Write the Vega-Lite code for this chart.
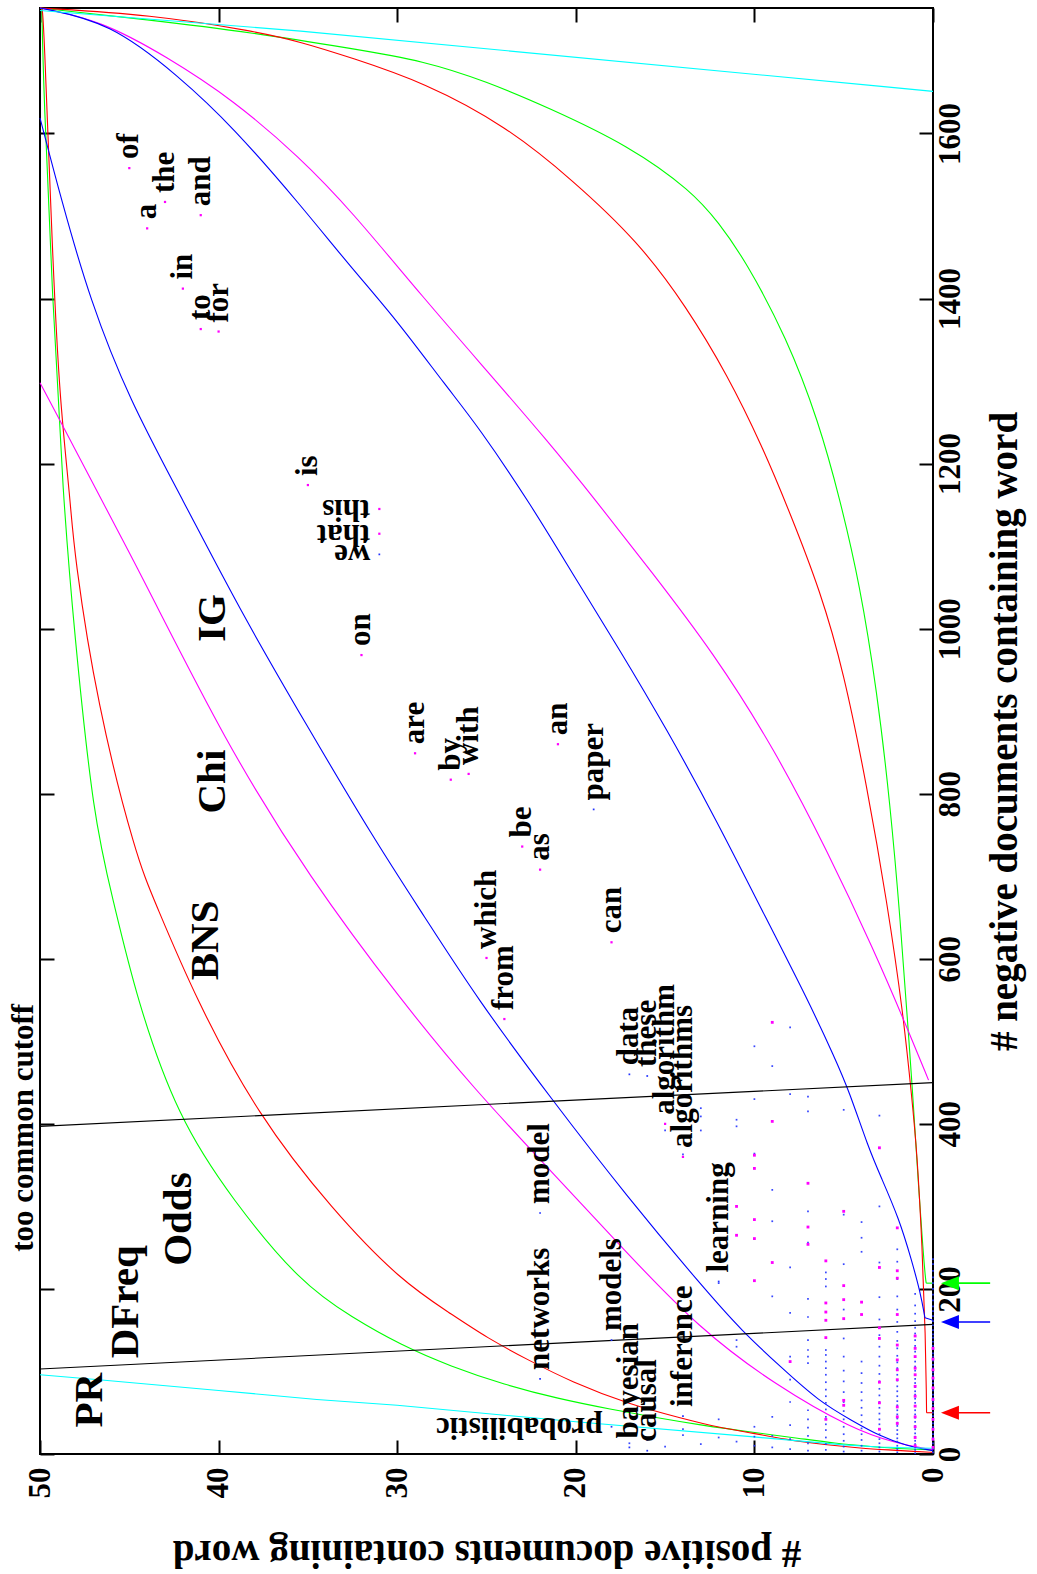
{
"$schema": "https://vega.github.io/schema/vega-lite/v6.json",
"width": 893, "height": 1446,
"autosize": {"type": "none"},
"padding": {"left": 40, "top": 8, "right": 104, "bottom": 120},
"background": "white",
"config": {"view": {"stroke": "black", "strokeWidth": 2}, "font": "Liberation Serif"},
"datasets": {
"curves": [
{"m":"Odds","b":"L","p":49.9,"n":1752},{"m":"Odds","b":"L","p":49.8,"n":1653},{"m":"Odds","b":"L","p":49.3,"n":1400},{"m":"Odds","b":"L","p":48.7,"n":1156},{"m":"Odds","b":"L","p":48.1,"n":1000},{"m":"Odds","b":"L","p":47.0,"n":768},{"m":"Odds","b":"L","p":45.9,"n":671},{"m":"Odds","b":"L","p":44.6,"n":552},{"m":"Odds","b":"L","p":42.3,"n":408},{"m":"Odds","b":"L","p":39.2,"n":307},{"m":"Odds","b":"L","p":35.4,"n":207},{"m":"Odds","b":"L","p":32.5,"n":165},{"m":"Odds","b":"L","p":29.8,"n":132},{"m":"Odds","b":"L","p":27,"n":106},{"m":"Odds","b":"L","p":24,"n":84},{"m":"Odds","b":"L","p":21,"n":67},{"m":"Odds","b":"L","p":18,"n":54},{"m":"Odds","b":"L","p":15.5,"n":44},{"m":"Odds","b":"L","p":13,"n":35},{"m":"Odds","b":"L","p":10,"n":26},{"m":"Odds","b":"L","p":7.5,"n":19},{"m":"Odds","b":"L","p":5.5,"n":13},{"m":"Odds","b":"L","p":3.5,"n":9},{"m":"Odds","b":"L","p":1.5,"n":6},{"m":"Odds","b":"L","p":0,"n":5},
{"m":"Odds","b":"T","p":50,"n":1752},{"m":"Odds","b":"T","p":44,"n":1738},{"m":"Odds","b":"T","p":38,"n":1722},{"m":"Odds","b":"T","p":32.6,"n":1703},{"m":"Odds","b":"T","p":28.5,"n":1688},{"m":"Odds","b":"T","p":25,"n":1663},{"m":"Odds","b":"T","p":21.6,"n":1632},{"m":"Odds","b":"T","p":17,"n":1585},{"m":"Odds","b":"T","p":13.5,"n":1530},{"m":"Odds","b":"T","p":12,"n":1492},{"m":"Odds","b":"T","p":10.5,"n":1446},{"m":"Odds","b":"T","p":8.2,"n":1353},{"m":"Odds","b":"T","p":6.4,"n":1251},{"m":"Odds","b":"T","p":5.2,"n":1156},{"m":"Odds","b":"T","p":4.1,"n":1054},{"m":"Odds","b":"T","p":3.14,"n":925},{"m":"Odds","b":"T","p":2.39,"n":786},{"m":"Odds","b":"T","p":1.83,"n":647},{"m":"Odds","b":"T","p":1.37,"n":508},{"m":"Odds","b":"T","p":1.1,"n":425},{"m":"Odds","b":"T","p":0.8,"n":320},{"m":"Odds","b":"T","p":0.55,"n":245},{"m":"Odds","b":"T","p":0.42,"n":212},{"m":"Odds","b":"T","p":0.38,"n":207},
{"m":"BNS","b":"L","p":49.9,"n":1752},{"m":"BNS","b":"L","p":49.8,"n":1744},{"m":"BNS","b":"L","p":49.3,"n":1450},{"m":"BNS","b":"L","p":48.9,"n":1277},{"m":"BNS","b":"L","p":48.3,"n":1156},{"m":"BNS","b":"L","p":48.1,"n":1092},{"m":"BNS","b":"L","p":46.8,"n":907},{"m":"BNS","b":"L","p":44.6,"n":722},{"m":"BNS","b":"L","p":43.6,"n":671},{"m":"BNS","b":"L","p":41.3,"n":552},{"m":"BNS","b":"L","p":37.8,"n":410},{"m":"BNS","b":"L","p":33.6,"n":295},{"m":"BNS","b":"L","p":29.8,"n":210},{"m":"BNS","b":"L","p":27,"n":170},{"m":"BNS","b":"L","p":25,"n":141},{"m":"BNS","b":"L","p":22.5,"n":112},{"m":"BNS","b":"L","p":20.3,"n":88},{"m":"BNS","b":"L","p":17,"n":60},{"m":"BNS","b":"L","p":14,"n":43},{"m":"BNS","b":"L","p":12,"n":32},{"m":"BNS","b":"L","p":10,"n":25},{"m":"BNS","b":"L","p":8.4,"n":18},{"m":"BNS","b":"L","p":6,"n":11},{"m":"BNS","b":"L","p":4,"n":7},{"m":"BNS","b":"L","p":2.5,"n":5},{"m":"BNS","b":"L","p":1,"n":3},{"m":"BNS","b":"L","p":0,"n":2},
{"m":"BNS","b":"T","p":50,"n":1752},{"m":"BNS","b":"T","p":43.8,"n":1744},{"m":"BNS","b":"T","p":38,"n":1724},{"m":"BNS","b":"T","p":35.4,"n":1711},{"m":"BNS","b":"T","p":32.6,"n":1692},{"m":"BNS","b":"T","p":28.5,"n":1662},{"m":"BNS","b":"T","p":23.9,"n":1609},{"m":"BNS","b":"T","p":20.2,"n":1544},{"m":"BNS","b":"T","p":16.5,"n":1469},{"m":"BNS","b":"T","p":13.8,"n":1390},{"m":"BNS","b":"T","p":11.5,"n":1307},{"m":"BNS","b":"T","p":9.6,"n":1223},{"m":"BNS","b":"T","p":8,"n":1140},{"m":"BNS","b":"T","p":6.3,"n":1045},{"m":"BNS","b":"T","p":5,"n":948},{"m":"BNS","b":"T","p":3.7,"n":809},{"m":"BNS","b":"T","p":2.58,"n":670},{"m":"BNS","b":"T","p":1.65,"n":531},{"m":"BNS","b":"T","p":1.18,"n":430},{"m":"BNS","b":"T","p":0.9,"n":368},{"m":"BNS","b":"T","p":0.6,"n":250},{"m":"BNS","b":"T","p":0.42,"n":140},{"m":"BNS","b":"T","p":0.37,"n":70},{"m":"BNS","b":"T","p":0.36,"n":50},
{"m":"Chi","b":"L","p":50,"n":1298},{"m":"Chi","b":"L","p":44.4,"n":1069},{"m":"Chi","b":"L","p":39.6,"n":861},{"m":"Chi","b":"L","p":34.9,"n":698},{"m":"Chi","b":"L","p":29.8,"n":550},{"m":"Chi","b":"L","p":25.65,"n":441},{"m":"Chi","b":"L","p":21.4,"n":343},{"m":"Chi","b":"L","p":17.2,"n":245},{"m":"Chi","b":"L","p":13.1,"n":152},{"m":"Chi","b":"L","p":8.8,"n":83},{"m":"Chi","b":"L","p":4.5,"n":30},{"m":"Chi","b":"L","p":2.1,"n":13},{"m":"Chi","b":"L","p":0,"n":5},
{"m":"Chi","b":"T","p":50,"n":1752},{"m":"Chi","b":"T","p":46.6,"n":1737},{"m":"Chi","b":"T","p":42.9,"n":1693},{"m":"Chi","b":"T","p":39.2,"n":1641},{"m":"Chi","b":"T","p":35.4,"n":1570},{"m":"Chi","b":"T","p":32.6,"n":1507},{"m":"Chi","b":"T","p":28.5,"n":1400},{"m":"Chi","b":"T","p":25,"n":1313},{"m":"Chi","b":"T","p":21.6,"n":1228},{"m":"Chi","b":"T","p":18.9,"n":1156},{"m":"Chi","b":"T","p":15.8,"n":1070},{"m":"Chi","b":"T","p":12.3,"n":971},{"m":"Chi","b":"T","p":8.9,"n":855},{"m":"Chi","b":"T","p":5.9,"n":730},{"m":"Chi","b":"T","p":3.3,"n":610},{"m":"Chi","b":"T","p":1.46,"n":517},{"m":"Chi","b":"T","p":0.25,"n":453},
{"m":"IG","b":"L","p":50,"n":1619},{"m":"IG","b":"L","p":48.8,"n":1519},{"m":"IG","b":"L","p":47.2,"n":1398},{"m":"IG","b":"L","p":45,"n":1277},{"m":"IG","b":"L","p":42,"n":1156},{"m":"IG","b":"L","p":38.8,"n":1022},{"m":"IG","b":"L","p":35.1,"n":884},{"m":"IG","b":"L","p":31.3,"n":745},{"m":"IG","b":"L","p":28.5,"n":652},{"m":"IG","b":"L","p":25.5,"n":551},{"m":"IG","b":"L","p":21.4,"n":431},{"m":"IG","b":"L","p":17.1,"n":311},{"m":"IG","b":"L","p":12.8,"n":200},{"m":"IG","b":"L","p":10.7,"n":149},{"m":"IG","b":"L","p":8.5,"n":105},{"m":"IG","b":"L","p":6.4,"n":64},{"m":"IG","b":"L","p":4.5,"n":40},{"m":"IG","b":"L","p":3,"n":22},{"m":"IG","b":"L","p":1.5,"n":10},{"m":"IG","b":"L","p":0,"n":4},
{"m":"IG","b":"T","p":50,"n":1752},{"m":"IG","b":"T","p":46.1,"n":1735},{"m":"IG","b":"T","p":42.2,"n":1669},{"m":"IG","b":"T","p":39.2,"n":1608},{"m":"IG","b":"T","p":35.4,"n":1513},{"m":"IG","b":"T","p":32.6,"n":1438},{"m":"IG","b":"T","p":30.1,"n":1376},{"m":"IG","b":"T","p":27.2,"n":1292},{"m":"IG","b":"T","p":25.5,"n":1246},{"m":"IG","b":"T","p":22.5,"n":1150},{"m":"IG","b":"T","p":20,"n":1060},{"m":"IG","b":"T","p":17.7,"n":980},{"m":"IG","b":"T","p":14.9,"n":878},{"m":"IG","b":"T","p":12.1,"n":767},{"m":"IG","b":"T","p":9.3,"n":647},{"m":"IG","b":"T","p":7,"n":550},{"m":"IG","b":"T","p":5.5,"n":480},{"m":"IG","b":"T","p":4.7,"n":440},{"m":"IG","b":"T","p":3.6,"n":370},{"m":"IG","b":"T","p":2.9,"n":335},{"m":"IG","b":"T","p":1.9,"n":285},{"m":"IG","b":"T","p":1.2,"n":235},{"m":"IG","b":"T","p":0.7,"n":195},{"m":"IG","b":"T","p":0.45,"n":165}
],
"straight": [
{"m":"PR","b":"L","p":50,"n":96},{"m":"PR","b":"L","p":46.7,"n":90},{"m":"PR","b":"L","p":40,"n":77},{"m":"PR","b":"L","p":34.5,"n":66},{"m":"PR","b":"L","p":30,"n":59},{"m":"PR","b":"L","p":20,"n":39},{"m":"PR","b":"L","p":10.2,"n":21},{"m":"PR","b":"L","p":5,"n":11},{"m":"PR","b":"L","p":3,"n":8.5},{"m":"PR","b":"L","p":1.5,"n":7.5},{"m":"PR","b":"L","p":0,"n":7},
{"m":"PR","b":"T","p":50,"n":1749},{"m":"PR","b":"T","p":35.4,"n":1724},{"m":"PR","b":"T","p":2.9,"n":1657},{"m":"PR","b":"T","p":0,"n":1651},
{"m":"Odds","b":"S","p":0.38,"n":207},{"m":"Odds","b":"S","p":0,"n":207},
{"m":"BNS","b":"S","p":0.36,"n":50},{"m":"BNS","b":"S","p":0,"n":50},
{"m":"IG","b":"S","p":0.45,"n":165},{"m":"IG","b":"S","p":0,"n":162},
{"m":"DFreq","b":"L","p":50,"n":103},{"m":"DFreq","b":"L","p":0,"n":157},
{"m":"DFreq","b":"T","p":50,"n":397},{"m":"DFreq","b":"T","p":0,"n":450}
],
"arrows": [
{"m":"BNS","t":-3.2,"h":-0.95,"n":50},
{"m":"IG","t":-3.2,"h":-0.95,"n":160},
{"m":"Odds","t":-3.2,"h":-0.95,"n":207}
],
"blue": [
{"p":0,"n":2},{"p":0,"n":6},{"p":0,"n":9},{"p":0,"n":13},{"p":0,"n":17},{"p":0,"n":20},{"p":0,"n":24},{"p":0,"n":29},{"p":0,"n":33},{"p":0,"n":37},{"p":0,"n":41},{"p":0,"n":46},{"p":0,"n":50},{"p":0,"n":55},{"p":0,"n":59},{"p":0,"n":63},{"p":0,"n":68},{"p":0,"n":72},{"p":0,"n":77},{"p":0,"n":81},{"p":0,"n":86},{"p":0,"n":90},{"p":0,"n":95},{"p":0,"n":99},{"p":0,"n":104},{"p":0,"n":108},{"p":0,"n":113},{"p":0,"n":118},{"p":0,"n":122},{"p":0,"n":127},{"p":0,"n":131},{"p":0,"n":136},{"p":0,"n":141},{"p":0,"n":145},{"p":0,"n":150},{"p":0,"n":156},{"p":0,"n":161},{"p":0,"n":167},{"p":0,"n":173},{"p":0,"n":179},{"p":0,"n":186},{"p":0,"n":193},{"p":0,"n":200},{"p":0,"n":207},{"p":0,"n":214},{"p":0,"n":222},{"p":0,"n":230},{"p":0,"n":236},
{"p":1,"n":1},{"p":1,"n":5},{"p":1,"n":8},{"p":1,"n":12},{"p":1,"n":16},{"p":1,"n":21},{"p":1,"n":25},{"p":1,"n":30},{"p":1,"n":34},{"p":1,"n":39},{"p":1,"n":44},{"p":1,"n":48},{"p":1,"n":53},{"p":1,"n":58},{"p":1,"n":62},{"p":1,"n":67},{"p":1,"n":72},{"p":1,"n":76},{"p":1,"n":81},{"p":1,"n":86},{"p":1,"n":91},{"p":1,"n":96},{"p":1,"n":101},{"p":1,"n":106},{"p":1,"n":112},{"p":1,"n":118},{"p":1,"n":124},{"p":1,"n":131},{"p":1,"n":138},{"p":1,"n":146},{"p":1,"n":153},{"p":1,"n":161},{"p":1,"n":170},{"p":1,"n":180},{"p":1,"n":194},
{"p":2,"n":2},{"p":2,"n":6},{"p":2,"n":10},{"p":2,"n":15},{"p":2,"n":19},{"p":2,"n":24},{"p":2,"n":29},{"p":2,"n":34},{"p":2,"n":38},{"p":2,"n":43},{"p":2,"n":48},{"p":2,"n":53},{"p":2,"n":59},{"p":2,"n":64},{"p":2,"n":70},{"p":2,"n":76},{"p":2,"n":82},{"p":2,"n":89},{"p":2,"n":96},{"p":2,"n":104},{"p":2,"n":111},{"p":2,"n":119},{"p":2,"n":128},{"p":2,"n":137},{"p":2,"n":148},{"p":2,"n":160},{"p":2,"n":175},{"p":2,"n":191},{"p":2,"n":212},{"p":2,"n":233},{"p":2,"n":248},
{"p":3,"n":3},{"p":3,"n":8},{"p":3,"n":13},{"p":3,"n":18},{"p":3,"n":24},{"p":3,"n":30},{"p":3,"n":36},{"p":3,"n":42},{"p":3,"n":49},{"p":3,"n":56},{"p":3,"n":63},{"p":3,"n":71},{"p":3,"n":79},{"p":3,"n":88},{"p":3,"n":97},{"p":3,"n":107},{"p":3,"n":118},{"p":3,"n":130},{"p":3,"n":144},{"p":3,"n":163},{"p":3,"n":190},{"p":3,"n":232},{"p":3,"n":300},{"p":3,"n":410},
{"p":4,"n":4},{"p":4,"n":10},{"p":4,"n":17},{"p":4,"n":24},{"p":4,"n":31},{"p":4,"n":39},{"p":4,"n":47},{"p":4,"n":56},{"p":4,"n":65},{"p":4,"n":75},{"p":4,"n":86},{"p":4,"n":98},{"p":4,"n":112},{"p":4,"n":245},{"p":4,"n":262},{"p":4,"n":281},
{"p":5,"n":3},{"p":5,"n":9},{"p":5,"n":16},{"p":5,"n":24},{"p":5,"n":33},{"p":5,"n":42},{"p":5,"n":52},{"p":5,"n":63},{"p":5,"n":75},{"p":5,"n":88},{"p":5,"n":101},{"p":5,"n":118},{"p":5,"n":140},{"p":5,"n":175},{"p":5,"n":230},{"p":5,"n":290},{"p":5,"n":417},
{"p":6,"n":5},{"p":6,"n":12},{"p":6,"n":20},{"p":6,"n":29},{"p":6,"n":36},{"p":6,"n":45},{"p":6,"n":54},{"p":6,"n":62},{"p":6,"n":70},{"p":6,"n":78},{"p":6,"n":87},{"p":6,"n":96},{"p":6,"n":104},{"p":6,"n":112},{"p":6,"n":120},{"p":6,"n":126},{"p":6,"n":203},{"p":6,"n":212},{"p":6,"n":220},
{"p":7,"n":4},{"p":7,"n":13},{"p":7,"n":22},{"p":7,"n":32},{"p":7,"n":42},{"p":7,"n":53},{"p":7,"n":110},{"p":7,"n":118},{"p":7,"n":126},{"p":7,"n":138},{"p":7,"n":166},{"p":7,"n":188},{"p":7,"n":256},{"p":7,"n":294},{"p":7,"n":415},{"p":7,"n":433},
{"p":8,"n":6},{"p":8,"n":18},{"p":8,"n":35},{"p":8,"n":63},{"p":8,"n":90},{"p":8,"n":118},{"p":8,"n":171},{"p":8,"n":226},{"p":8,"n":436},{"p":8,"n":517},
{"p":9,"n":8},{"p":9,"n":22},{"p":9,"n":45},{"p":9,"n":191},{"p":9,"n":282},{"p":9,"n":320},{"p":9,"n":470},
{"p":10,"n":10},{"p":10,"n":21},{"p":10,"n":33},{"p":10,"n":364},{"p":10,"n":430},{"p":10,"n":494},
{"p":11,"n":15},{"p":11,"n":130},{"p":11,"n":138},{"p":11,"n":397},{"p":11,"n":405},
{"p":12,"n":20},{"p":12,"n":42},{"p":12,"n":207},
{"p":13,"n":12},{"p":13,"n":392},{"p":13,"n":409},{"p":13,"n":419},
{"p":14,"n":23},{"p":14,"n":30},{"p":14,"n":363},
{"p":15,"n":9},{"p":15,"n":392},{"p":16,"n":17},{"p":17,"n":13}
],
"mag": [
{"p":11,"n":300},{"p":11,"n":265},{"p":10,"n":362},{"p":10,"n":346},{"p":10,"n":284},{"p":10,"n":261},{"p":10,"n":210},{"p":9,"n":523},{"p":9,"n":403},{"p":9,"n":232},{"p":8,"n":112},{"p":7,"n":328},{"p":7,"n":275},{"p":7,"n":254},{"p":6,"n":234},{"p":6,"n":183},{"p":6,"n":172},{"p":6,"n":162},{"p":6,"n":141},{"p":6,"n":42},{"p":5,"n":294},{"p":5,"n":204},{"p":5,"n":187},{"p":5,"n":164},{"p":5,"n":65},{"p":5,"n":59},{"p":4,"n":184},{"p":4,"n":169},{"p":3,"n":371},{"p":3,"n":226},{"p":3,"n":153},{"p":3,"n":140},{"p":3,"n":87},{"p":3,"n":62},{"p":3,"n":30},{"p":2,"n":274},{"p":2,"n":222},{"p":2,"n":213},{"p":2,"n":169},{"p":2,"n":132},{"p":2,"n":114},{"p":2,"n":102},{"p":2,"n":90},{"p":2,"n":57},{"p":2,"n":45},{"p":2,"n":37},{"p":1,"n":143},{"p":1,"n":128},{"p":1,"n":118},{"p":1,"n":104},{"p":1,"n":96},{"p":1,"n":82},{"p":1,"n":70},{"p":1,"n":58},{"p":1,"n":45},{"p":1,"n":33},{"p":1,"n":20},{"p":1,"n":10},{"p":0,"n":128},{"p":0,"n":115},{"p":0,"n":102},{"p":0,"n":92},{"p":0,"n":80},{"p":0,"n":66},{"p":0,"n":55},{"p":0,"n":42},{"p":0,"n":30},{"p":0,"n":18},{"p":0,"n":8}
],
"words": [
{"w":"of","p":45,"n":1558,"o":"up","g":"A"},{"w":"a","p":44,"n":1485,"o":"up","g":"A"},{"w":"the","p":43,"n":1517,"o":"up","g":"A"},{"w":"and","p":41,"n":1501,"o":"up","g":"A"},{"w":"in","p":42,"n":1412,"o":"up","g":"A"},{"w":"to","p":41,"n":1363,"o":"up","g":"A"},{"w":"for","p":40,"n":1360,"o":"up","g":"A"},{"w":"is","p":35,"n":1174,"o":"up","g":"A"},
{"w":"this","p":31,"n":1145,"o":"flip","g":"A"},{"w":"that","p":31,"n":1115,"o":"flip","g":"A"},{"w":"we","p":31,"n":1090,"o":"flip","g":"B"},
{"w":"on","p":32,"n":968,"o":"up","g":"A"},{"w":"are","p":29,"n":849,"o":"up","g":"A"},{"w":"by","p":27,"n":817,"o":"up","g":"A"},{"w":"with","p":26,"n":824,"o":"up","g":"A"},{"w":"an","p":21,"n":860,"o":"up","g":"A"},{"w":"paper","p":19,"n":781,"o":"up","g":"B"},{"w":"be","p":23,"n":736,"o":"up","g":"A"},{"w":"as","p":22,"n":708,"o":"up","g":"A"},{"w":"which","p":25,"n":601,"o":"up","g":"A"},{"w":"from","p":24,"n":527,"o":"up","g":"A"},{"w":"can","p":18,"n":620,"o":"up","g":"A"},
{"w":"data","p":17,"n":460,"o":"up","g":"B"},{"w":"these","p":16,"n":458,"o":"up","g":"B"},{"w":"algorithm","p":15,"n":400,"o":"up","g":"A"},{"w":"algorithms","p":14,"n":360,"o":"up","g":"A"},
{"w":"model","p":22,"n":292,"o":"up","g":"B"},{"w":"networks","p":22,"n":91,"o":"up","g":"B"},{"w":"models","p":18,"n":138,"o":"up","g":"B"},{"w":"inference","p":14,"n":46,"o":"up","g":"B"},{"w":"learning","p":12,"n":209,"o":"up","g":"B"},{"w":"bayesian","p":17,"n":8,"o":"up","g":"B"},{"w":"causal","p":16,"n":4,"o":"up","g":"B"},
{"w":"probabilistic","p":18,"n":33,"o":"flip","g":"B"}
],
"labels": [
{"t":"PR","p":47.2,"n":32},{"t":"DFreq","p":45.2,"n":116},{"t":"Odds","p":42.2,"n":228},{"t":"BNS","p":40.7,"n":574},{"t":"Chi","p":40.3,"n":776},{"t":"IG","p":40.3,"n":984}
],
"cut": [{"t":"too common cutoff","p":50.9,"n":245}]
},
"layer": [
{"data":{"name":"curves"},
 "mark":{"type":"line","strokeWidth":1.1,"interpolate":"basis"},
 "encoding":{
  "x":{"field":"p","type":"quantitative","scale":{"domain":[0,50],"reverse":true,"nice":false,"zero":false},
   "axis":{"orient":"bottom","values":[0,10,20,30,40,50],"format":"d","title":"# positive documents containing word","titleAngle":180,"titleBaseline":"bottom","titleFont":"Liberation Serif","titleFontSize":39,"titleFontWeight":"bold","titleColor":"black","titlePadding":34,
   "labelAngle":270,"labelAlign":"right","labelBaseline":"middle","labelFont":"Liberation Serif","labelFontSize":31,"labelFontWeight":"bold","labelColor":"black","labelPadding":27,"labelFlush":false,"labelOverlap":false,
   "tickSize":-14,"tickWidth":2,"tickColor":"black","domain":false,"grid":false}},
  "y":{"field":"n","type":"quantitative","scale":{"domain":[0,1752],"nice":false,"zero":false},
   "axis":{"orient":"right","values":[0,200,400,600,800,1000,1200,1400,1600],"format":"d","title":"# negative documents containing word","titleAngle":270,"titleBaseline":"top","titleFont":"Liberation Serif","titleFontSize":39,"titleFontWeight":"bold","titleColor":"black","titlePadding":20,
   "labelAngle":270,"labelAlign":"center","labelBaseline":"top","labelFont":"Liberation Serif","labelFontSize":31,"labelFontWeight":"bold","labelColor":"black","labelPadding":16,"labelFlush":false,"labelOverlap":false,
   "tickSize":-14,"tickWidth":2,"tickColor":"black","domain":false,"grid":false}},
  "color":{"field":"m","type":"nominal","scale":{"domain":["PR","Odds","BNS","Chi","IG","DFreq"],"range":["#00ffff","#00ff00","#ff0000","#ff00ff","#0000ff","#000000"]},"legend":null},
  "detail":{"field":"b"}
 }},
{"data":{"name":"straight"},
 "mark":{"type":"line","strokeWidth":1.1},
 "encoding":{
  "x":{"field":"p","type":"quantitative","scale":{"domain":[0,50],"reverse":true,"nice":false,"zero":false},"axis":null},
  "y":{"field":"n","type":"quantitative","scale":{"domain":[0,1752],"nice":false,"zero":false},"axis":null},
  "color":{"field":"m","type":"nominal","scale":{"domain":["PR","Odds","BNS","Chi","IG","DFreq"],"range":["#00ffff","#00ff00","#ff0000","#ff00ff","#0000ff","#000000"]},"legend":null},
  "detail":{"field":"b"}
 }},
{"data":{"name":"arrows"},
 "mark":{"type":"rule","strokeWidth":1.6},
 "encoding":{
  "x":{"field":"t","type":"quantitative","scale":{"domain":[0,50],"reverse":true,"nice":false,"zero":false},
   "axis":{"orient":"top","values":[0,10,20,30,40,50],"labels":false,"title":null,"tickSize":-14,"tickWidth":2,"tickColor":"black","domain":false,"grid":false}},
  "x2":{"field":"h"},
  "y":{"field":"n","type":"quantitative","scale":{"domain":[0,1752],"nice":false,"zero":false},
   "axis":{"orient":"left","values":[0,200,400,600,800,1000,1200,1400,1600],"labels":false,"title":null,"tickSize":-14,"tickWidth":2,"tickColor":"black","domain":false,"grid":false}},
  "color":{"field":"m","type":"nominal","scale":{"domain":["PR","Odds","BNS","Chi","IG","DFreq"],"range":["#00ffff","#00ff00","#ff0000","#ff00ff","#0000ff","#000000"]},"legend":null}
 }},
{"data":{"name":"arrows"},
 "mark":{"type":"point","shape":"M-1,0L1,-0.78L1,0.78Z","filled":true,"size":324,"opacity":1},
 "encoding":{
  "x":{"field":"h","type":"quantitative","scale":{"domain":[0,50],"reverse":true,"nice":false,"zero":false},"axis":null},
  "y":{"field":"n","type":"quantitative","scale":{"domain":[0,1752],"nice":false,"zero":false},"axis":null},
  "color":{"field":"m","type":"nominal","scale":{"domain":["PR","Odds","BNS","Chi","IG","DFreq"],"range":["#00ffff","#00ff00","#ff0000","#ff00ff","#0000ff","#000000"]},"legend":null}
 }},
{"data":{"name":"blue"},
 "mark":{"type":"point","shape":"square","filled":true,"size":3,"color":"#2233ff","opacity":0.9},
 "encoding":{
  "x":{"field":"p","type":"quantitative","scale":{"domain":[0,50],"reverse":true,"nice":false,"zero":false},"axis":null},
  "y":{"field":"n","type":"quantitative","scale":{"domain":[0,1752],"nice":false,"zero":false},"axis":null}
 }},
{"data":{"name":"mag"},
 "mark":{"type":"point","shape":"square","filled":true,"size":8,"color":"#ff00ff","opacity":1},
 "encoding":{
  "x":{"field":"p","type":"quantitative","scale":{"domain":[0,50],"reverse":true,"nice":false,"zero":false},"axis":null},
  "y":{"field":"n","type":"quantitative","scale":{"domain":[0,1752],"nice":false,"zero":false},"axis":null}
 }},
{"data":{"name":"words"},
 "transform":[{"filter":"datum.g == 'A'"}],
 "mark":{"type":"point","shape":"square","filled":true,"size":5,"color":"#ff00ff","opacity":1},
 "encoding":{
  "x":{"field":"p","type":"quantitative","scale":{"domain":[0,50],"reverse":true,"nice":false,"zero":false},"axis":null},
  "y":{"field":"n","type":"quantitative","scale":{"domain":[0,1752],"nice":false,"zero":false},"axis":null}
 }},
{"data":{"name":"words"},
 "transform":[{"filter":"datum.g == 'B'"}],
 "mark":{"type":"point","shape":"square","filled":true,"size":3,"color":"#2233ff","opacity":1},
 "encoding":{
  "x":{"field":"p","type":"quantitative","scale":{"domain":[0,50],"reverse":true,"nice":false,"zero":false},"axis":null},
  "y":{"field":"n","type":"quantitative","scale":{"domain":[0,1752],"nice":false,"zero":false},"axis":null}
 }},
{"data":{"name":"words"},
 "transform":[{"filter":"datum.o == 'up'"}],
 "mark":{"type":"text","angle":270,"align":"left","baseline":"middle","dx":9,"font":"Liberation Serif","fontSize":31,"fontWeight":"bold","color":"black"},
 "encoding":{
  "x":{"field":"p","type":"quantitative","scale":{"domain":[0,50],"reverse":true,"nice":false,"zero":false},"axis":null},
  "y":{"field":"n","type":"quantitative","scale":{"domain":[0,1752],"nice":false,"zero":false},"axis":null},
  "text":{"field":"w"}
 }},
{"data":{"name":"words"},
 "transform":[{"filter":"datum.o == 'flip'"}],
 "mark":{"type":"text","angle":180,"align":"left","baseline":"middle","dx":9,"font":"Liberation Serif","fontSize":31,"fontWeight":"bold","color":"black"},
 "encoding":{
  "x":{"field":"p","type":"quantitative","scale":{"domain":[0,50],"reverse":true,"nice":false,"zero":false},"axis":null},
  "y":{"field":"n","type":"quantitative","scale":{"domain":[0,1752],"nice":false,"zero":false},"axis":null},
  "text":{"field":"w"}
 }},
{"data":{"name":"labels"},
 "mark":{"type":"text","angle":270,"align":"left","baseline":"middle","font":"Liberation Serif","fontSize":41,"fontWeight":"bold","color":"black"},
 "encoding":{
  "x":{"field":"p","type":"quantitative","scale":{"domain":[0,50],"reverse":true,"nice":false,"zero":false},"axis":null},
  "y":{"field":"n","type":"quantitative","scale":{"domain":[0,1752],"nice":false,"zero":false},"axis":null},
  "text":{"field":"t"}
 }},
{"data":{"name":"cut"},
 "mark":{"type":"text","angle":270,"align":"left","baseline":"middle","font":"Liberation Serif","fontSize":31,"fontWeight":"bold","color":"black"},
 "encoding":{
  "x":{"field":"p","type":"quantitative","scale":{"domain":[0,50],"reverse":true,"nice":false,"zero":false},"axis":null},
  "y":{"field":"n","type":"quantitative","scale":{"domain":[0,1752],"nice":false,"zero":false},"axis":null},
  "text":{"field":"t"}
 }}
],
"resolve": {"axis": {"x": "independent", "y": "independent"}}
}
